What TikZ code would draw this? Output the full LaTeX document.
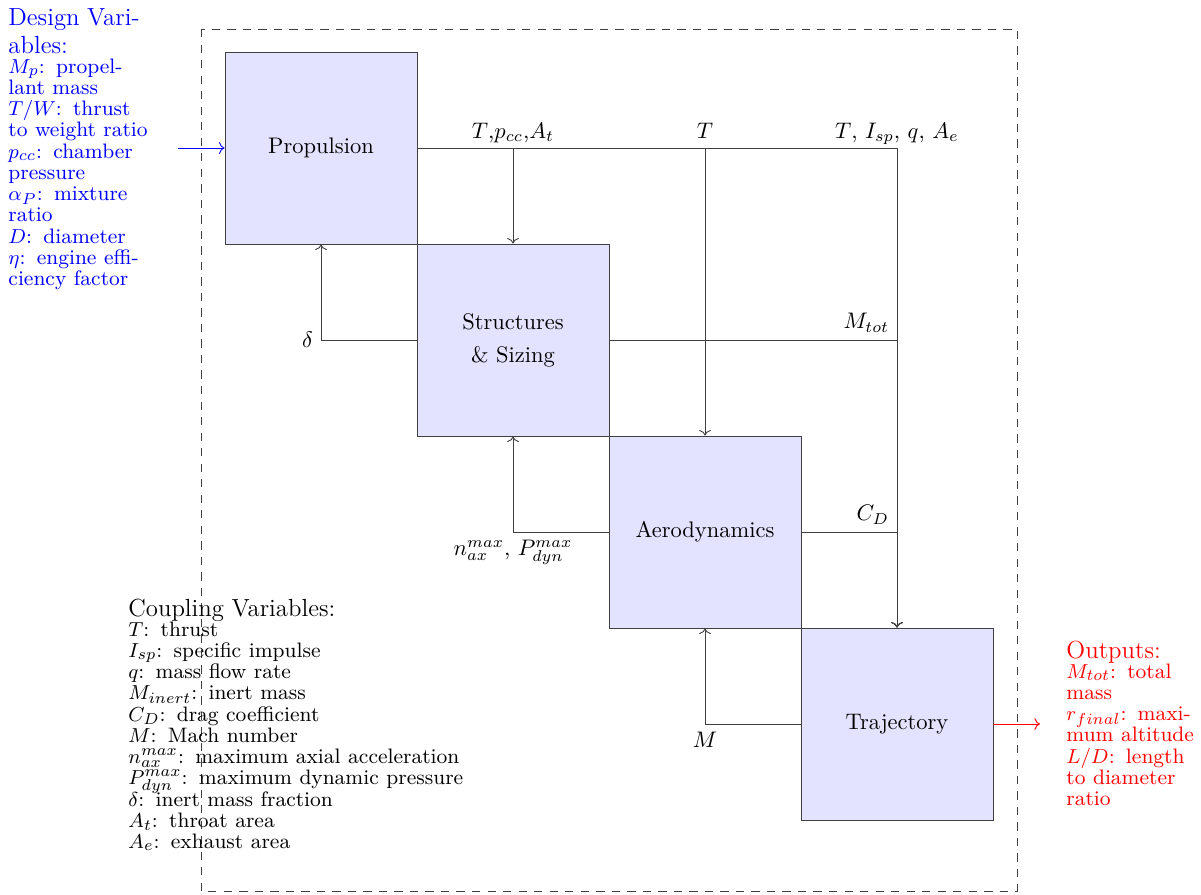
\documentclass[tikz,border=0pt]{standalone}
\usetikzlibrary{arrows.meta}
\setlength{\parindent}{0pt}
\newcommand{\ttlfont}{\fontsize{11}{12.45}\selectfont}
\newcommand{\lstfont}{\fontsize{9.3}{9.45}\selectfont\lineskiplimit=-\maxdimen}
\begin{document}
\begin{tikzpicture}[x=0.015625cm,y=-0.015625cm,
  line/.style={draw=black!75},
  block/.style={line, fill=blue!11, minimum width=3cm, minimum height=3cm, inner sep=0pt, align=center},
  conn/.style={line, ->},
  toplab/.style={anchor=base, yshift=4.4pt, inner sep=0pt},
  txt/.style={inner sep=0pt, anchor=north west}]
\useasboundingbox (0,0) rectangle (1201,894);
\draw[line, dash pattern=on 3.7pt off 3.2pt] (201,29) rectangle (1017,891);

\node[block] (prop) at (321,148) {Propulsion};
\node[block] (struct) at (513,340) {Structures\\[2.7pt] \& Sizing};
\node[block] (aero) at (705,532) {Aerodynamics};
\node[block] (traj) at (897,724) {Trajectory};

\draw[conn] (prop.east) -| node[toplab]{$T$,$p_{cc}$,$A_t$} (struct.north);
\draw[conn] (prop.east) -| node[toplab]{$T$} (aero.north);
\draw[conn] (prop.east) -| node[toplab]{$T$, $I_{sp}$, $q$, $A_e$} (traj.north);
\draw[conn] (struct.west) -| node[left]{$\delta$} (prop.south);
\draw[conn] (struct.east) -| node[above left]{$M_{tot}$} (traj.north);
\draw[conn] (aero.west) -| node[below]{$n_{ax}^{max}$, $P_{dyn}^{max}$} (struct.south);
\draw[conn] (aero.east) -| node[above left]{$C_D$} (traj.north);
\draw[conn] (traj.west) -| node[below]{$M$} (aero.south);

\node[txt, blue, text width=2.2cm, align=left] (dv) at (8,8.5) {\ttlfont Design Variables:\par\vspace{-0.9pt}
\lstfont $M_p$: propellant mass\\ $T/W$: thrust to weight ratio\\ $p_{cc}$: chamber pressure\\ $\alpha_P$: mixture ratio\\ $D$: diameter\\ $\eta$: engine efficiency factor\par};
\coordinate (din) at (178,148);
\draw[->, blue] (din) -- (prop.west);

\node[txt, red, text width=2cm, align=left] (out) at (1066,641) {\ttlfont Outputs:\par\vspace{-0.9pt}
\lstfont $M_{tot}$: total mass\\ $r_{final}$: maximum altitude\\ $L/D$: length to diameter ratio\par};
\coordinate (dout) at (1040,724);
\draw[->, red] (traj.east) -- (dout);

\node[txt, text width=6cm, align=left] (cv) at (128,599) {\ttlfont Coupling Variables:\par\vspace{-0.9pt}
\lstfont $T$: thrust\\ $I_{sp}$: specific impulse\\ $q$: mass flow rate\\ $M_{inert}$: inert mass\\ $C_D$: drag coefficient\\ $M$: Mach number\\ $n_{ax}^{max}$: maximum axial acceleration\\ $P_{dyn}^{max}$: maximum dynamic pressure\\ $\delta$: inert mass fraction\\ $A_t$: throat area\\ $A_e$: exhaust area\par};
\end{tikzpicture}
\end{document}
